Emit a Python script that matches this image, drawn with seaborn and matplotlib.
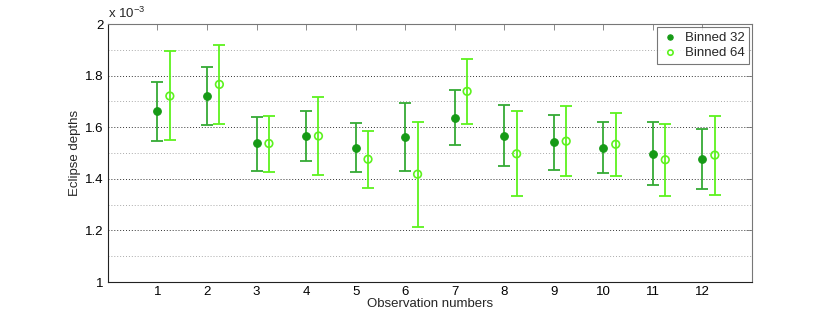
import numpy as np
import pandas as pd
import matplotlib
matplotlib.use("Agg")
import matplotlib.pyplot as plt
from matplotlib.ticker import MultipleLocator, FuncFormatter
import seaborn as sns

observations = [1, 2, 3, 4, 5, 6, 7, 8, 9, 10, 11, 12]
# values in units of 1e-3
b32_depth = [1.662, 1.721, 1.537, 1.566, 1.521, 1.563, 1.637, 1.566, 1.541, 1.520, 1.498, 1.476]
b32_upper = [1.777, 1.834, 1.640, 1.663, 1.617, 1.692, 1.743, 1.685, 1.649, 1.619, 1.621, 1.594]
b32_lower = [1.548, 1.610, 1.432, 1.470, 1.425, 1.432, 1.532, 1.448, 1.434, 1.421, 1.375, 1.361]
b64_depth = [1.721, 1.766, 1.537, 1.566, 1.476, 1.418, 1.739, 1.497, 1.546, 1.534, 1.474, 1.492]
b64_upper = [1.894, 1.917, 1.645, 1.719, 1.585, 1.622, 1.866, 1.662, 1.681, 1.657, 1.614, 1.645]
b64_lower = [1.551, 1.614, 1.427, 1.413, 1.366, 1.214, 1.613, 1.334, 1.410, 1.412, 1.332, 1.339]
series_labels = ["Binned 32", "Binned 64"]

sns.set_style("white")
plt.rcParams["font.family"] = ["Liberation Sans", "DejaVu Sans"]
plt.rcParams["mathtext.fontset"] = "custom"
plt.rcParams["mathtext.rm"] = "Liberation Sans"

fig = plt.figure(figsize=(8.3, 3.18), dpi=100)
ax = fig.add_axes([0.130, 0.113, 0.776, 0.8115])

x = np.array(observations, dtype=float)
c32_m = "#169a16"
c32_e = "#35aa35"
c64 = "#5df21e"

d32 = np.array(b32_depth)
d64 = np.array(b64_depth)
err32 = [d32 - np.array(b32_lower), np.array(b32_upper) - d32]
err64 = [d64 - np.array(b64_lower), np.array(b64_upper) - d64]

ax.errorbar(x, d32, yerr=err32, fmt="none", ecolor=c32_e, elinewidth=1.3,
            capsize=4, capthick=1.3, zorder=3)
ax.errorbar(x + 0.25, d64, yerr=err64, fmt="none", ecolor=c64, elinewidth=1.3,
            capsize=4, capthick=1.3, zorder=3)

df = pd.DataFrame({
    "obs": np.concatenate([x, x + 0.25]),
    "depth": np.concatenate([d32, d64]),
    "series": [series_labels[0]] * len(x) + [series_labels[1]] * len(x),
})
sns.scatterplot(data=df[df.series == series_labels[0]], x="obs", y="depth", ax=ax,
                color=c32_m, s=30, edgecolor=c32_m, linewidth=0.8, zorder=4,
                label=series_labels[0])
sns.scatterplot(data=df[df.series == series_labels[1]], x="obs", y="depth", ax=ax,
                facecolor="none", edgecolor=c64, s=30, linewidth=1.2, zorder=4,
                label=series_labels[1])

ax.set_xlim(0, 13)
ax.set_ylim(1, 2)
ax.set_xticks(observations)
ax.yaxis.set_major_locator(MultipleLocator(0.2))
ax.yaxis.set_minor_locator(MultipleLocator(0.1))
ax.yaxis.set_major_formatter(FuncFormatter(lambda v, p: "%g" % round(v, 3)))

ax.grid(False)
ax.yaxis.grid(True, which="major", color="#333333", linestyle=(0, (1, 2)), linewidth=0.7)
ax.yaxis.grid(True, which="minor", color="#aaaaaa", linestyle=(0, (1, 2)), linewidth=0.7)
ax.set_axisbelow(True)

ax.tick_params(axis="both", which="major", direction="in", length=4, width=0.6,
               color="#777777", labelsize=9.5, top=True, right=True, pad=3,
               labelcolor="black")
ax.tick_params(axis="y", which="minor", left=False, right=False)

for side in ["top", "right"]:
    ax.spines[side].set_color("#777777")
    ax.spines[side].set_linewidth(0.8)
for side in ["left", "bottom"]:
    ax.spines[side].set_color("#222222")
    ax.spines[side].set_linewidth(0.8)
for side in ["left", "bottom", "top", "right"]:
    ax.spines[side].set_visible(True)

ax.set_xlabel("Observation numbers", fontsize=9.5, labelpad=0)
ax.set_ylabel("Eclipse depths", fontsize=9.5, labelpad=3)
ax.text(0.0, 1.01, r"x 10$^{-3}$", transform=ax.transAxes, fontsize=9.5,
        ha="left", va="bottom")

leg = ax.legend(loc="upper right", fontsize=9.5, frameon=True, fancybox=False,
                borderpad=0.35, handletextpad=0.4, labelspacing=0.25,
                borderaxespad=0.2, handlelength=1.4, markerscale=0.7)
leg.get_frame().set_edgecolor("#555555")
leg.get_frame().set_linewidth(0.8)

fig.savefig("out.png", dpi=100)
